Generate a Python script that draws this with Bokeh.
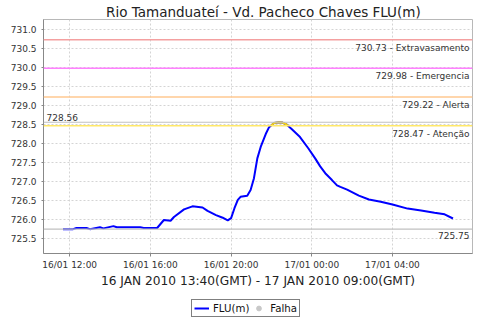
import numpy as np
import pandas as pd
from bokeh.plotting import figure
from bokeh.layouts import column
from bokeh.models import (Span, FixedTicker, NumeralTickFormatter, DatetimeTickFormatter,
                          Range1d, Legend, LegendItem, ColumnDataSource)
from bokeh.core.properties import value
from bokeh.embed import file_html
from bokeh.resources import INLINE

FONT = "DejaVu Sans"

title_text = "Rio Tamanduateí - Vd. Pacheco Chaves FLU(m)"
x_label = "16 JAN 2010 13:40(GMT) - 17 JAN 2010 09:00(GMT)"

times = ["2010-01-16 11:40", "2010-01-16 12:10", "2010-01-16 12:20", "2010-01-16 12:50",
         "2010-01-16 13:00", "2010-01-16 13:30", "2010-01-16 13:40", "2010-01-16 14:10",
         "2010-01-16 14:20", "2010-01-16 15:30", "2010-01-16 15:40", "2010-01-16 16:20",
         "2010-01-16 16:40", "2010-01-16 17:00", "2010-01-16 17:10", "2010-01-16 17:40",
         "2010-01-16 18:05", "2010-01-16 18:35", "2010-01-16 18:50", "2010-01-16 19:15",
         "2010-01-16 19:35", "2010-01-16 19:50", "2010-01-16 20:00", "2010-01-16 20:10",
         "2010-01-16 20:20", "2010-01-16 20:28", "2010-01-16 20:48", "2010-01-16 20:58",
         "2010-01-16 21:08", "2010-01-16 21:18", "2010-01-16 21:28", "2010-01-16 21:43",
         "2010-01-16 21:53", "2010-01-16 22:08", "2010-01-16 22:23", "2010-01-16 22:33",
         "2010-01-16 22:45", "2010-01-16 23:00", "2010-01-16 23:25", "2010-01-16 23:50",
         "2010-01-17 00:10", "2010-01-17 00:25", "2010-01-17 00:40", "2010-01-17 01:00",
         "2010-01-17 01:15", "2010-01-17 01:25", "2010-01-17 01:45", "2010-01-17 02:20",
         "2010-01-17 02:50", "2010-01-17 03:25", "2010-01-17 04:00", "2010-01-17 04:45",
         "2010-01-17 05:25", "2010-01-17 06:05", "2010-01-17 06:35", "2010-01-17 07:00"]
levels = [725.75, 725.75, 725.78, 725.78,
          725.75, 725.80, 725.77, 725.83,
          725.80, 725.80, 725.78, 725.78,
          725.99, 725.97, 726.07, 726.27,
          726.35, 726.32, 726.23, 726.12,
          726.05, 725.98, 726.04, 726.30,
          726.52, 726.60, 726.63, 726.78,
          727.09, 727.61, 727.91, 728.25,
          728.43, 728.54, 728.56, 728.55,
          728.50, 728.38, 728.17, 727.87,
          727.61, 727.40, 727.22, 727.04,
          726.90, 726.86, 726.79, 726.63,
          726.53, 726.47, 726.40, 726.29,
          726.24, 726.18, 726.14, 726.03]

threshold_values = [730.73, 729.98, 729.22, 728.47]
threshold_names = ["Extravasamento", "Emergencia", "Alerta", "Atenção"]
threshold_colors = ["#f4a0a0", "#ff80ff", "#ffc890", "#ffe868"]

y_ticks = [725.5, 726.0, 726.5, 727.0, 727.5, 728.0, 728.5, 729.0, 729.5, 730.0, 730.5, 731.0]
x_ticks = ["2010-01-16 12:00", "2010-01-16 16:00", "2010-01-16 20:00",
           "2010-01-17 00:00", "2010-01-17 04:00"]
legend_labels = ["FLU(m)", "Falha"]
y_min, y_max = 725.11, 731.26

t = pd.to_datetime(times)
v = np.array(levels)
tms = (t.astype("int64") // 10**6).to_numpy().astype(float)
span = tms[-1] - tms[0]
x_start = tms[0] - 0.05 * span
x_end = tms[-1] + 0.05 * span


def strip(h, xmax):
    f = figure(width=480, height=h, output_backend="svg", toolbar_location=None,
               min_border=0, x_axis_location=None, y_axis_location=None,
               x_range=Range1d(0, xmax), y_range=Range1d(0, h))
    f.grid.visible = False
    f.outline_line_color = None
    f.border_fill_color = "white"
    f.background_fill_color = "white"
    return f


# title strip
tf = strip(19, 480)
tf.text(x=[246], y=[8], text=[title_text], text_align="center",
        text_baseline="alphabetic", text_font=value(FONT), text_font_size="13.5px",
        text_color="#222222")

p = figure(width=480, height=271, x_axis_type="datetime", output_backend="svg",
           toolbar_location=None, min_border_left=43, min_border_right=8,
           min_border_top=0, min_border_bottom=34,
           x_range=Range1d(x_start, x_end), y_range=Range1d(y_min, y_max))
p.background_fill_color = "white"
p.border_fill_color = "white"
p.outline_line_color = "#b8b8b8"

for ax in (p.xaxis[0], p.yaxis[0]):
    ax.major_label_text_font = FONT
    ax.major_label_text_font_size = "9px"
    ax.major_label_text_color = "#333333"
    ax.axis_line_color = "#888888"
    ax.major_tick_line_color = "#888888"
    ax.minor_tick_line_color = None
    ax.major_tick_in = 0

p.yaxis[0].ticker = FixedTicker(ticks=y_ticks)
p.yaxis[0].formatter = NumeralTickFormatter(format="0.0")
p.yaxis[0].major_tick_out = 2
p.yaxis[0].major_label_standoff = 5

xt = (pd.to_datetime(x_ticks).astype("int64") // 10**6).tolist()
p.xaxis[0].ticker = FixedTicker(ticks=xt)
fmt = "%d/%m %H:%M"
p.xaxis[0].formatter = DatetimeTickFormatter(hours=fmt, hourmin=fmt, days=fmt, minutes=fmt,
                                             minsec=fmt, seconds=fmt, milliseconds=fmt,
                                             months=fmt, years=fmt)
p.xaxis[0].major_tick_out = 3
p.xaxis[0].major_label_standoff = 3
p.xaxis[0].axis_label = x_label
p.xaxis[0].axis_label_text_font = FONT
p.xaxis[0].axis_label_text_font_size = "12.2px"
p.xaxis[0].axis_label_text_font_style = "normal"
p.xaxis[0].axis_label_text_color = "#222222"
p.xaxis[0].axis_label_standoff = 1

for g in (p.xgrid[0], p.ygrid[0]):
    g.grid_line_color = "#d4d4d4"
    g.grid_line_dash = "2 2"
    g.grid_line_width = 1
p.ygrid[0].ticker = FixedTicker(ticks=y_ticks)
p.xgrid[0].ticker = FixedTicker(ticks=xt)

# threshold lines
for tv, tc in zip(threshold_values, threshold_colors):
    p.add_layout(Span(location=tv, dimension="width", line_color=tc, line_width=1.5))

vmax, vmin = float(v.max()), float(v.min())
p.add_layout(Span(location=vmax, dimension="width", line_color="#c0c0c0", line_width=1.2))
p.add_layout(Span(location=vmin, dimension="width", line_color="#c0c0c0", line_width=1.2))

lab_src = ColumnDataSource(dict(
    x=[x_end] * len(threshold_values), y=threshold_values,
    text=[f"{tv:.2f} - {n}" for tv, n in zip(threshold_values, threshold_names)]))
p.text(x="x", y="y", text="text", source=lab_src, text_align="right", text_baseline="top",
       x_offset=-3, y_offset=3, text_font=value(FONT), text_font_size="9px",
       text_color="#333333")
p.text(x=[x_start], y=[vmax], text=[f"{vmax:.2f}"], text_align="left",
       text_baseline="alphabetic", x_offset=3, y_offset=-5, text_font=value(FONT),
       text_font_size="9px", text_color="#333333")
p.text(x=[x_end], y=[vmin], text=[f"{vmin:.2f}"], text_align="right",
       text_baseline="top", x_offset=-3, y_offset=3, text_font=value(FONT),
       text_font_size="9px", text_color="#333333")

# data line
line_r = p.line(t, v, line_color="#0000ff", line_width=2)

# portion above attention level in yellow
att = threshold_values[3]
idx = np.where(v >= att)[0]
i0, i1 = idx[0], idx[-1]
xs0 = tms[i0 - 1] + (att - v[i0 - 1]) / (v[i0] - v[i0 - 1]) * (tms[i0] - tms[i0 - 1])
xs1 = tms[i1] + (att - v[i1]) / (v[i1 + 1] - v[i1]) * (tms[i1 + 1] - tms[i1])
yx = np.concatenate([[xs0], tms[i0:i1 + 1], [xs1]])
yy = np.concatenate([[att], v[i0:i1 + 1], [att]])
p.line(yx, yy, line_color="#f2d21a", line_width=2)

# legend strip
lf = strip(30, 480)
l_line = lf.line(x=[np.nan, np.nan], y=[np.nan, np.nan], line_color="#0000ff", line_width=2)
l_falha = lf.scatter(x=[np.nan], y=[np.nan], marker="circle", size=9,
                     fill_color="#c8c8c8", line_color="#c8c8c8")
legend = Legend(items=[LegendItem(label=legend_labels[0], renderers=[l_line]),
                       LegendItem(label=legend_labels[1], renderers=[l_falha])],
                orientation="horizontal", location=(148, 3), margin=0,
                padding=2, spacing=2, glyph_width=15, glyph_height=12,
                label_height=12, label_standoff=4,
                label_text_font=FONT, label_text_font_size="10.2px",
                label_text_color="#111111",
                border_line_color="#000000", border_line_width=1,
                background_fill_color="white", background_fill_alpha=1)
lf.add_layout(legend, "center")

layout = column(tf, p, lf, spacing=0)
open("out.html", "w").write(file_html(layout, INLINE))
